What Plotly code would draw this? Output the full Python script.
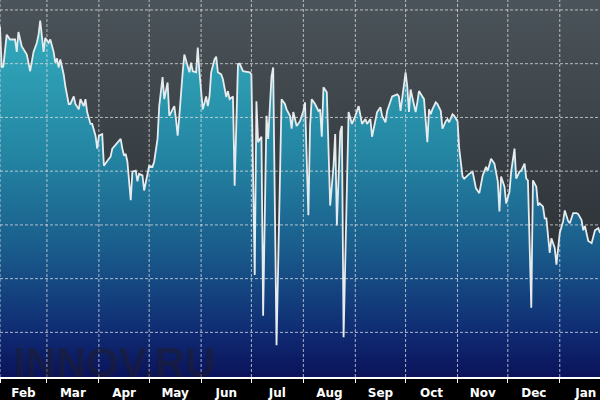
import pandas as pd
import plotly.graph_objects as go

START_DATE = "2014-02-01"
END_DAY = 358
Y_MIN, Y_MAX = 1.7, 71.85
GRID_STEP = 10

# day offset from START_DATE for each observation
days = [0, 1, 2, 4, 6, 9, 10, 11, 13, 16, 18, 20, 22, 23, 24, 26, 27, 29, 30, 31,
        32, 33, 34, 35, 36, 38, 39, 41, 42, 44, 45, 47, 48, 50, 51, 52, 54, 55, 57, 58,
        59, 61, 62, 64, 66, 67, 70, 72, 73, 74, 75, 76, 78, 79, 81, 82, 83, 85, 86, 88,
        89, 91, 92, 94, 95, 97, 98, 100, 101, 103, 104, 105, 106, 107, 108, 109, 110, 112, 113, 114,
        115, 117, 118, 119, 120, 121, 123, 124, 125, 126, 128, 129, 130, 132, 133, 135, 136, 137, 139, 140,
        142, 143, 145, 148, 149, 150, 152, 153, 154, 156, 157, 159, 160, 162, 163, 165, 168, 170, 171, 173,
        174, 175, 177, 179, 181, 182, 184, 185, 186, 188, 190, 191, 192, 193, 195, 196, 197, 199, 200, 201,
        203, 204, 205, 208, 210, 212, 214, 216, 218, 219, 221, 222, 224, 225, 227, 228, 230, 231, 233, 234,
        237, 238, 239, 240, 242, 243, 244, 245, 246, 248, 249, 250, 252, 253, 255, 256, 257, 258, 260, 261,
        263, 264, 266, 267, 268, 270, 271, 273, 274, 276, 277, 279, 280, 282, 284, 286, 288, 290, 291, 293,
        295, 297, 298, 299, 301, 302, 304, 305, 307, 308, 310, 311, 313, 314, 315, 317, 318, 320, 321, 322,
        324, 325, 326, 328, 329, 331, 332, 334, 336, 337, 339, 340, 342, 344, 345, 347, 348, 349, 351, 353,
        355, 357, 358]

values = [66.9, 59.3, 59.5, 65.4, 64.5, 64.5, 62.2, 65.9, 63.2, 61.7, 58.6, 62.2, 63.9, 65.4, 68.0, 62.2, 64.8, 63.9, 64.5, 63.5,
          62.2, 60.2, 61.0, 59.3, 60.8, 58.0, 55.8, 52.5, 52.5, 53.9, 52.5, 51.5, 53.4, 52.1, 53.4, 51.0, 48.8, 48.8, 46.6, 44.2,
          46.6, 46.9, 41.0, 41.9, 42.7, 44.2, 45.4, 46.0, 44.2, 42.9, 43.2, 41.8, 34.6, 39.9, 40.1, 38.1, 39.5, 39.2, 36.4, 39.5,
          41.0, 40.8, 41.8, 46.0, 52.1, 57.5, 53.4, 56.5, 50.3, 51.5, 52.1, 49.7, 46.6, 50.3, 55.2, 58.4, 61.7, 59.5, 58.4, 60.2,
          58.6, 58.4, 63.0, 58.4, 55.2, 51.5, 53.9, 52.1, 53.9, 58.4, 60.8, 61.3, 58.4, 58.0, 57.1, 53.8, 54.9, 53.4, 53.9, 37.3,
          59.9, 60.0, 58.6, 58.4, 58.4, 58.0, 20.7, 53.0, 45.4, 46.4, 13.1, 50.3, 46.0, 57.6, 59.3, 7.6, 53.4, 52.5, 51.5, 50.3,
          47.9, 51.0, 48.4, 49.3, 51.2, 52.8, 31.8, 48.4, 53.4, 52.5, 51.2, 51.5, 46.4, 55.6, 54.7, 44.2, 33.6, 41.0, 46.9, 29.9,
          47.3, 48.4, 9.1, 51.0, 48.8, 50.3, 52.1, 48.8, 49.7, 48.8, 49.7, 46.4, 49.3, 51.0, 51.9, 50.3, 49.1, 51.2, 53.0, 53.9,
          54.3, 53.9, 51.2, 53.9, 58.4, 55.8, 51.0, 55.2, 53.9, 51.0, 52.8, 54.9, 53.9, 53.4, 45.4, 51.5, 50.6, 51.5, 52.8, 52.5,
          51.2, 47.9, 49.3, 49.7, 49.1, 50.6, 50.3, 49.3, 44.2, 39.0, 38.6, 39.2, 39.5, 39.9, 36.8, 35.9, 39.2, 40.8, 40.1, 42.3,
          41.4, 38.1, 32.5, 39.0, 37.1, 34.0, 36.2, 39.9, 44.2, 38.6, 39.9, 40.1, 41.4, 38.6, 38.3, 14.6, 38.3, 37.1, 33.6, 34.0,
          33.4, 31.2, 31.2, 24.8, 27.5, 25.7, 22.6, 28.5, 30.7, 32.7, 30.7, 30.3, 32.2, 32.2, 32.0, 30.9, 29.0, 29.8, 27.0, 26.6,
          29.0, 29.4, 28.5]

start = pd.Timestamp(START_DATE)
dates = start + pd.to_timedelta(days, unit="D")
end = start + pd.Timedelta(days=END_DAY)

fig = go.Figure()

# dark gray gradient panel behind the area
fig.add_trace(go.Scatter(
    x=[start, end], y=[Y_MAX, Y_MAX], mode="lines", line=dict(width=0),
    fill="tozeroy",
    fillgradient=dict(type="vertical", start=Y_MIN, stop=Y_MAX,
                      colorscale=[[0, "#202428"], [0.5, "#343a3f"], [1, "#4b545a"]]),
    hoverinfo="skip", showlegend=False))

# main series
fig.add_trace(go.Scatter(
    x=dates, y=values, mode="lines",
    line=dict(color="#e6ecee", width=1.8),
    fill="tozeroy",
    fillgradient=dict(type="vertical", start=Y_MIN, stop=Y_MAX,
                      colorscale=[[0, "#0a1158"], [0.12, "#0f2a72"], [0.35, "#1a5d8c"],
                                  [0.6, "#2486a3"], [0.85, "#2fa2b6"], [1, "#36afc0"]]),
    hoverinfo="skip", showlegend=False))

# dashed grid drawn above the filled area (as in the reference)
grid_style = dict(color="rgba(225,225,225,0.75)", width=1, dash="3px,2px")
shapes = []
for m in pd.date_range(start, end, freq="MS"):
    shapes.append(dict(type="line", xref="x", yref="paper", x0=m, x1=m, y0=0, y1=1,
                       line=grid_style, layer="above"))
for v in range(GRID_STEP, int(Y_MAX) + 1, GRID_STEP):
    shapes.append(dict(type="line", xref="paper", yref="y", x0=0, x1=1, y0=v, y1=v,
                       line=grid_style, layer="above"))

fig.update_layout(
    width=600, height=400,
    margin=dict(l=0, r=0, t=0, b=20),
    paper_bgcolor="#000000",
    plot_bgcolor="#2e3338",
    showlegend=False,
    hovermode=False,
    shapes=shapes,
    xaxis=dict(
        range=[start, end], type="date",
        dtick="M1", tick0="2014-01-01", ticklabelmode="period", tickformat="%b",
        showgrid=False,
        showline=True, linecolor="#ffffff", linewidth=2,
        ticks="outside", ticklen=4, tickcolor="#ffffff", tickwidth=1,
        tickfont=dict(family="DejaVu Sans", size=12, color="#ffffff", weight="bold"),
        zeroline=False, fixedrange=True,
    ),
    yaxis=dict(
        range=[Y_MIN, Y_MAX], dtick=GRID_STEP, tick0=0,
        showgrid=False, showticklabels=False, ticks="", zeroline=False, showline=False,
        fixedrange=True,
    ),
    annotations=[dict(
        text="INNOV.RU", xref="paper", yref="paper", x=0.02, y=-0.03,
        xanchor="left", yanchor="bottom", showarrow=False,
        font=dict(family="Liberation Sans", size=42, color="rgba(30,30,45,0.55)", weight="bold"),
    )],
)

fig.write_html("out.html", config={"displayModeBar": False},
               post_script="document.body.style.margin='0';document.body.style.padding='0';")
